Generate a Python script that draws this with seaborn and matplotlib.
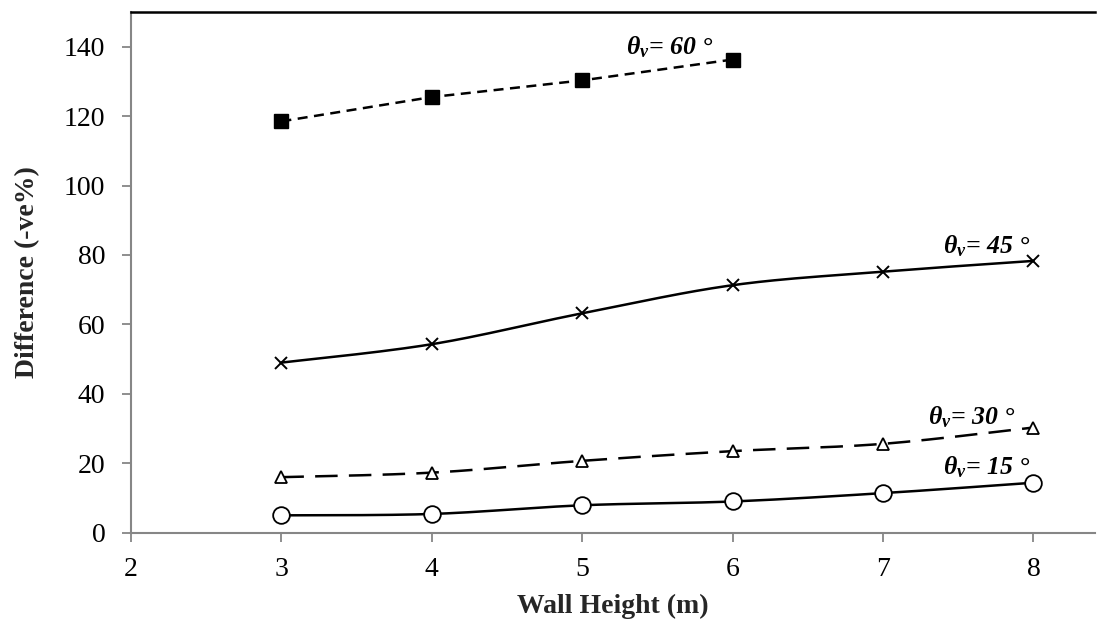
import numpy as np
import pandas as pd
import matplotlib
matplotlib.use("Agg")
import matplotlib.pyplot as plt
import seaborn as sns

# ---- data ----
wall_height = [3, 4, 5, 6, 7, 8]
theta15 = [5.0, 5.4, 7.9, 9.0, 11.4, 14.4]
theta30 = [16.0, 17.3, 20.7, 23.5, 25.6, 30.3]
theta45 = [49.0, 54.3, 63.2, 71.3, 75.2, 78.3]
wall_height_60 = [3, 4, 5, 6]
theta60 = [118.5, 125.5, 130.3, 136.3]
labels = ["\u03b8_v= 15 \u00b0", "\u03b8_v= 30 \u00b0", "\u03b8_v= 45 \u00b0", "\u03b8_v= 60 \u00b0"]
x_ticks = [2, 3, 4, 5, 6, 7, 8]
y_ticks = [0, 20, 40, 60, 80, 100, 120, 140]

sns.set_theme(style="white")
plt.rcParams['font.family'] = ['Liberation Serif', 'DejaVu Serif']
plt.rcParams['mathtext.fontset'] = 'custom'
plt.rcParams['mathtext.rm'] = 'Liberation Serif'
plt.rcParams['mathtext.it'] = 'Liberation Serif:italic:bold'
plt.rcParams['mathtext.bf'] = 'Liberation Serif:bold:italic'


def smooth(xs, ys, n=30):
    """Excel-like smoothed line: cubic Bezier segments with Catmull-Rom control points."""
    P = np.column_stack([xs, ys]).astype(float)
    out = []
    t = np.linspace(0, 1, n)
    for i in range(len(P) - 1):
        p0 = P[i - 1] if i > 0 else P[i]
        p1 = P[i]
        p2 = P[i + 1]
        p3 = P[i + 2] if i + 2 < len(P) else P[i + 1]
        c1 = p1 + (p2 - p0) / 6.0
        c2 = p2 - (p3 - p1) / 6.0
        seg = ((1 - t)[:, None] ** 3 * p1 + 3 * ((1 - t) ** 2 * t)[:, None] * c1
               + 3 * ((1 - t) * t ** 2)[:, None] * c2 + (t ** 3)[:, None] * p2)
        out.append(seg if i == 0 else seg[1:])
    S = np.vstack(out)
    return S[:, 0], S[:, 1]


fig = plt.figure(figsize=(11.01, 6.23), dpi=100)
ax = fig.add_axes([131 / 1101, 1 - 532.7 / 623, (1095 - 131) / 1101, (532.7 - 12) / 623])

# 15 deg: solid smooth, open circles
sx, sy = smooth(wall_height, theta15)
sns.lineplot(x=sx, y=sy, ax=ax, sort=False, estimator=None, color='black', lw=1.8)
ax.plot(wall_height, theta15, ls='none', marker='o', ms=12, mfc='white', mec='black', mew=1.3, zorder=3)

# 30 deg: long dashes smooth, open triangles
sx, sy = smooth(wall_height, theta30)
sns.lineplot(x=sx, y=sy, ax=ax, sort=False, estimator=None, color='black', lw=1.8)
ax.lines[-1].set_dashes((9, 4.5))
ax.plot(wall_height, theta30, ls='none', marker='^', ms=9, mfc='white', mec='black', mew=1.3, zorder=3)

# 45 deg: solid smooth, x markers
sx, sy = smooth(wall_height, theta45)
sns.lineplot(x=sx, y=sy, ax=ax, sort=False, estimator=None, color='black', lw=1.8)
ax.plot(wall_height, theta45, ls='none', marker='x', ms=9, mec='black', mew=1.4, zorder=3)

# 60 deg: short dashes straight, filled squares
sns.lineplot(x=wall_height_60, y=theta60, ax=ax, sort=False, estimator=None, color='black', lw=1.8)
ax.lines[-1].set_dashes((4, 2.6))
ax.plot(wall_height_60, theta60, ls='none', marker='s', ms=10, mfc='black', mec='black', zorder=3)


# labels
def lab(s):
    return r'$\mathbf{\theta_{v}}$' + s.split('_v')[1]


lab_pos = [(7.69, 18.9), (7.59, 33.3), (7.69, 82.6), (5.58, 139.9)]
for s, (lx, ly) in zip(labels, lab_pos):
    ax.text(lx, ly, lab(s), ha='center', va='center', fontsize=18.5,
            fontweight='bold', fontstyle='italic', color='black')

ax.set_xlim(2, 2 + (1095 - 131) / 150.4)
ax.set_ylim(0, 150)
ax.set_xticks(x_ticks)
ax.set_yticks(y_ticks)
ax.tick_params(axis='both', labelsize=20, colors='#868686', length=6.5, width=1.3,
               direction='out', labelcolor='black', bottom=True, left=True)
ax.tick_params(axis='x', pad=11)
ax.tick_params(axis='y', pad=12)

for side in ['left', 'bottom']:
    ax.spines[side].set_color('#868686')
    ax.spines[side].set_linewidth(1.5)
ax.spines['right'].set_visible(False)
ax.spines['top'].set_color('black')
ax.spines['top'].set_linewidth(1.8)

ax.set_xlabel('Wall Height (m)', fontsize=20, fontweight='bold')
ax.set_ylabel('Difference (-ve%)', fontsize=20, fontweight='bold')
ax.xaxis.set_label_coords(0.5, (532.7 - 594) / 520.7)
ax.yaxis.set_label_coords((40 - 131) / 964, 0.5)
ax.grid(False)

fig.savefig('out.png', dpi=100)
